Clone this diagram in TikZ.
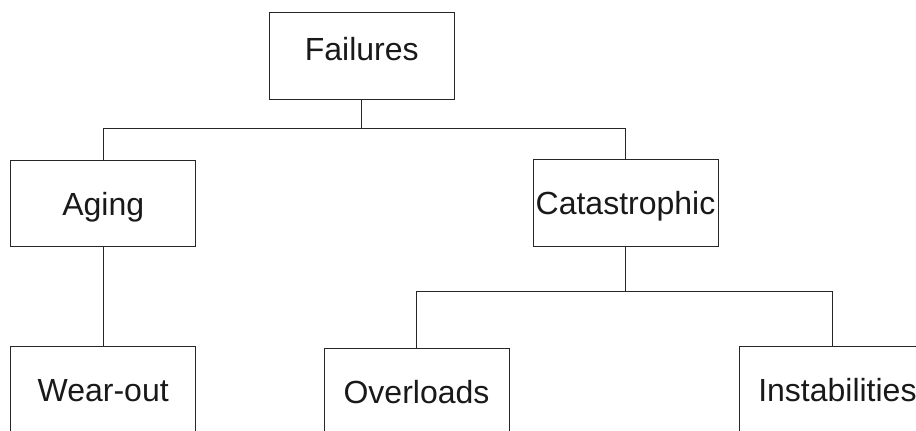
\documentclass[tikz,border=0pt]{standalone}
\usepackage{fontspec}
\setmainfont{Liberation Sans}
\begin{document}
\begin{tikzpicture}[x=1pt,y=-1pt,
  box/.style={draw=black!85, line width=1pt, minimum width=185pt, minimum height=86.5pt,
    inner sep=0pt, text height=23pt, text depth=0pt,
    font=\fontsize{32}{38}\selectfont, text=black!90},
  link/.style={draw=black!85, line width=1pt}]
\clip (0,0) rectangle (916,431);
\node[box, text depth=13pt] (fail) at (361.8,55.8) {Failures};
\node[box] (aging) at (103.2,203.5) {Aging};
\node[box] (cat) at (625.5,203.2) {Catastrophic};
\node[box] (wear) at (103.2,389.6) {Wear-out};
\node[box] (over) at (416.5,392) {Overloads};
\node[box] (inst) at (832.4,390) {\hspace*{10pt}Instabilities};
\draw[link] (fail.south) -- ++(0,29.3) -| (aging.north);
\draw[link] (fail.south) -- ++(0,29.3) -| (cat.north);
\draw[link] (aging.south) -- (wear.north);
\draw[link] (cat.south) -- ++(0,45) -| (over.north);
\draw[link] (cat.south) -- ++(0,45) -| (inst.north);
\end{tikzpicture}
\end{document}
